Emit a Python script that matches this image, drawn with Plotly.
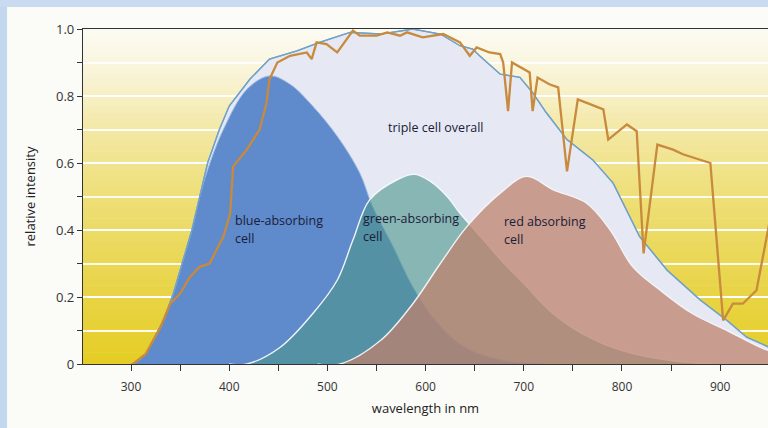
import plotly.graph_objects as go

# ---------------- data ----------------
wl_triple = [300, 305, 315, 322, 333, 343, 353, 362, 370, 378, 390, 400, 421, 441, 469, 492,
             523, 554, 587, 615, 635, 648, 655, 676, 696, 709, 723, 744, 770, 791, 818, 846,
             880, 907, 927, 950]
triple = [0, 0.005, 0.03, 0.07, 0.13, 0.21, 0.31, 0.40, 0.50, 0.60, 0.70, 0.77, 0.85, 0.91,
          0.935, 0.96, 0.99, 0.985, 1.0, 0.985, 0.95, 0.94, 0.92, 0.865, 0.856, 0.81, 0.75,
          0.67, 0.61, 0.54, 0.38, 0.28, 0.19, 0.13, 0.08, 0.05]

wl_blue = [300, 305, 315, 322, 333, 343, 353, 362, 370, 378, 394, 418, 441, 462, 485, 510,
           533, 546, 567, 587, 610, 640, 680, 720]
blue = [0, 0.005, 0.03, 0.07, 0.13, 0.21, 0.31, 0.40, 0.50, 0.58, 0.70, 0.82, 0.86, 0.835,
        0.77, 0.68, 0.57, 0.47, 0.35, 0.23, 0.13, 0.05, 0.01, 0]

wl_green = [400, 418, 452, 485, 510, 526, 543, 571, 589, 605, 622, 635, 650, 680, 700, 730,
            760, 800, 850, 890]
green = [0, 0, 0.05, 0.15, 0.25, 0.37, 0.49, 0.55, 0.566, 0.545, 0.50, 0.45, 0.40, 0.30,
         0.24, 0.15, 0.09, 0.04, 0.01, 0]

wl_red = [490, 513, 554, 587, 615, 642, 676, 703, 730, 764, 788, 811, 839, 872, 907, 941, 960]
red = [0, 0, 0.07, 0.18, 0.30, 0.41, 0.51, 0.56, 0.52, 0.48, 0.40, 0.29, 0.22, 0.15, 0.10,
       0.05, 0.03]

wl_sun = [302, 315, 330, 340, 350, 360, 370, 380, 394, 401, 404, 418, 431, 438, 441, 449, 462,
          479, 484, 489, 499, 510, 526, 533, 550, 561, 574, 581, 597, 618, 635, 645, 652, 665,
          676, 679, 684, 688, 706, 709, 714, 726, 735, 744, 755, 781, 786, 805, 815, 822, 836,
          852, 862, 890, 903, 913, 923, 937, 950]
sun = [0, 0.03, 0.11, 0.18, 0.21, 0.26, 0.29, 0.30, 0.38, 0.45, 0.59, 0.64, 0.70, 0.78, 0.85,
       0.90, 0.92, 0.93, 0.91, 0.96, 0.955, 0.93, 0.995, 0.98, 0.98, 0.99, 0.98, 0.99, 0.975,
       0.985, 0.96, 0.92, 0.945, 0.93, 0.925, 0.90, 0.755, 0.90, 0.87, 0.755, 0.855, 0.835,
       0.826, 0.575, 0.79, 0.76, 0.67, 0.715, 0.695, 0.33, 0.655, 0.64, 0.626, 0.60, 0.13,
       0.18, 0.18, 0.22, 0.42]

y_tickvals = [0, 0.2, 0.4, 0.6, 0.8, 1.0]
y_ticktext = ["0", "0.2", "0.4", "0.6", "0.8", "1.0"]
x_tickvals = [300, 400, 500, 600, 700, 800, 900]

labels = [
    ("triple cell overall", 560, 0.707),
    ("blue-absorbing", 404, 0.428),
    ("cell", 404, 0.374),
    ("green-absorbing", 534, 0.434),
    ("cell", 534, 0.380),
    ("red absorbing", 678, 0.425),
    ("cell", 678, 0.371),
]

# ---------------- figure ----------------
FONT = "Open Sans"
fig = go.Figure()

fig.add_trace(go.Scatter(x=wl_triple, y=triple, mode="lines", fill="tozeroy",
                         fillcolor="#e6e9f4", line=dict(color="#72a2c8", width=1.3),
                         hoverinfo="skip"))
fig.add_trace(go.Scatter(x=wl_blue, y=blue, mode="lines", fill="tozeroy",
                         fillcolor="#5f8acb", line=dict(color="#9fbde6", width=1, shape="spline"),
                         hoverinfo="skip"))
fig.add_trace(go.Scatter(x=wl_green, y=green, mode="lines", fill="tozeroy",
                         fillcolor="rgba(78,150,140,0.62)",
                         line=dict(color="rgba(245,250,250,0.95)", width=1.4, shape="spline"),
                         hoverinfo="skip"))
fig.add_trace(go.Scatter(x=wl_red, y=red, mode="lines", fill="tozeroy",
                         fillcolor="rgba(190,130,110,0.75)",
                         line=dict(color="rgba(245,245,250,0.95)", width=1.4, shape="spline"),
                         hoverinfo="skip"))
fig.add_trace(go.Scatter(x=wl_triple, y=triple, mode="lines",
                         line=dict(color="#72a2c8", width=1.3), hoverinfo="skip"))
fig.add_trace(go.Scatter(x=wl_sun, y=sun, mode="lines",
                         line=dict(color="#c88a3c", width=2.3), hoverinfo="skip"))

# background gradient bands (white top -> yellow bottom)
stops = [(0.0, (229, 205, 36)), (0.3, (234, 215, 85)), (0.5, (238, 223, 120)),
         (0.7, (243, 232, 165)), (0.85, (249, 243, 212)), (1.0, (252, 251, 244))]


def col_at(v):
    for (a, ca), (b, cb) in zip(stops[:-1], stops[1:]):
        if a <= v <= b:
            t = (v - a) / (b - a)
            return "rgb(%d,%d,%d)" % tuple(round(ca[k] + (cb[k] - ca[k]) * t) for k in range(3))
    return "rgb(%d,%d,%d)" % stops[-1][1]


N = 60
shapes = []
for i in range(N):
    y0 = i / N
    y1 = (i + 1) / N + 0.002
    shapes.append(dict(type="rect", xref="paper", yref="y", x0=0, x1=1, y0=y0, y1=y1,
                       fillcolor=col_at((i + 0.5) / N), line=dict(width=0), layer="below"))
# light blue frame strips (left and top)
shapes.append(dict(type="rect", xref="paper", yref="paper", x0=-0.125, x1=-0.1109,
                   y0=-0.2, y1=1.09, fillcolor="#c3d7ef", line=dict(width=0), layer="below"))
shapes.append(dict(type="rect", xref="paper", yref="paper", x0=-0.125, x1=1.01,
                   y0=1.0657, y1=1.09, fillcolor="#c8dbf0", line=dict(width=0), layer="below"))

annotations = []
for txt, x, y in labels:
    annotations.append(dict(text=txt, x=x, y=y, xref="x", yref="y", xanchor="left",
                            yanchor="middle", showarrow=False,
                            font=dict(family=FONT, size=12.5, color="#1a2038")))

fig.update_layout(
    width=768, height=428,
    margin=dict(l=83, r=0, t=29, b=64),
    paper_bgcolor="#fbfbf8",
    plot_bgcolor="#fcfaf0",
    showlegend=False,
    shapes=shapes,
    annotations=annotations,
    font=dict(family=FONT, size=12, color="#333333"),
)
fig.update_xaxes(
    range=[251.1, 948.7], tickvals=x_tickvals, ticks="outside", ticklen=6, tickwidth=1,
    tickcolor="#333333", showline=True, linecolor="#333333", linewidth=1.3, mirror=True,
    showgrid=False, zeroline=False, ticklabelstandoff=5,
    minor=dict(dtick=50, tick0=250, ticks="outside", ticklen=6, tickcolor="#333333", showgrid=False),
    tickfont=dict(family=FONT, size=12, color="#333333"),
    title=dict(text="wavelength in nm", font=dict(family=FONT, size=13, color="#222222"), standoff=10),
)
fig.update_yaxes(
    range=[0, 1.0], tickvals=y_tickvals, ticktext=y_ticktext, ticks="outside", ticklen=5,
    tickcolor="#333333", showline=True, linecolor="#333333", linewidth=1.3, mirror=False,
    showgrid=True, gridcolor="rgba(255,255,255,0.9)", gridwidth=2, zeroline=False,
    minor=dict(dtick=0.1, tick0=0, ticks="outside", ticklen=5, tickcolor="#333333",
               showgrid=True, gridcolor="rgba(255,255,255,0.9)", gridwidth=2),
    tickfont=dict(family=FONT, size=13, color="#333333"),
    title=dict(text="relative intensity", font=dict(family=FONT, size=13, color="#222222"), standoff=17),
)

fig.write_html("out.html", config={"displayModeBar": False},
               post_script="document.body.style.margin='0';")
